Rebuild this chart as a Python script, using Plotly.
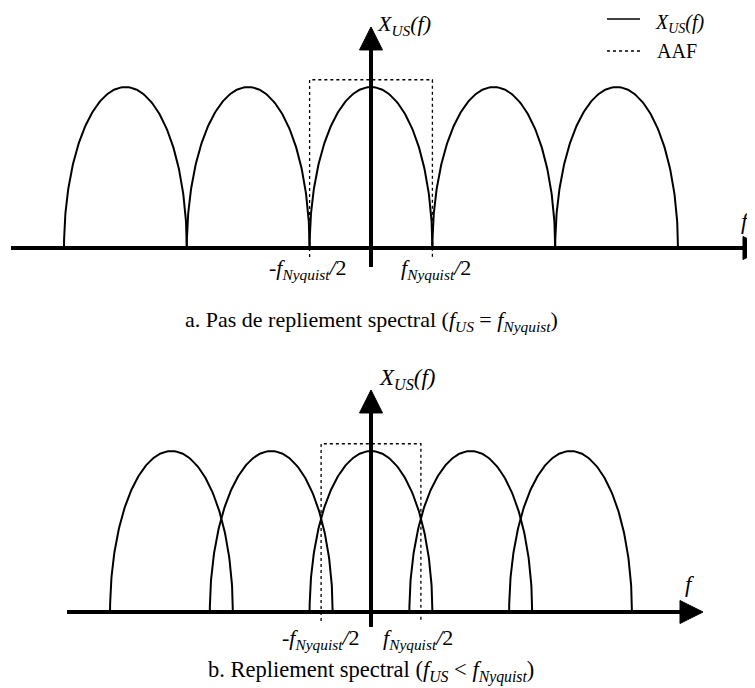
import numpy as np
import plotly.graph_objects as go

# ---------------- data ----------------
# spectral lobes (f in units of the signal half-bandwidth)
lobe_centers_a = [-4.0, -2.0, 0.0, 2.0, 4.0]          # f_US = f_Nyquist
lobe_centers_b = [-3.25, -1.625, 0.0, 1.625, 3.25]     # f_US < f_Nyquist
lobe_half_width = 1.0
lobe_height = 1.0
aaf_cutoff_a = 1.0       # f_Nyquist/2 in panel a
aaf_cutoff_b = 0.8125    # f_Nyquist/2 in panel b
aaf_height = 1.045
aaf_bottom = -0.056

# axis extents [start, tip]
haxis_a = [-5.863, 6.433]
vaxis_a = [-0.118, 1.373]
haxis_b = [-4.951, 5.407]
vaxis_b = [-0.093, 1.379]

tick_labels = ["-<i>f</i><sub><i>Nyquist</i></sub><i>/</i>2", "<i>f</i><sub><i>Nyquist</i></sub><i>/</i>2"]
ylabel = "<i>X</i><sub><i>US</i></sub><i>(f)</i>"
caption_a = "a. Pas de repliement spectral (<i>f</i><sub><i>US</i></sub> = <i>f</i><sub><i>Nyquist</i></sub>)"
caption_b = "b. Repliement spectral (<i>f</i><sub><i>US</i></sub> &lt; <i>f</i><sub><i>Nyquist</i></sub>)"

# ---------------- layout constants ----------------
W, H = 755, 688
OFF = 8          # page body margin
PW, PH = W - OFF, H - OFF
SX = 61.4    # px per f unit
SY = 161.0   # px per amplitude unit
X0 = 371
YA0, YB0 = 248, 612
SPLIT = 344
FONT = "Liberation Serif"
HEAD = 23

fig = go.Figure()

def lobe(c):
    t = np.linspace(0, np.pi, 181)
    return c + lobe_half_width * np.cos(t), lobe_height * np.sin(t)

def add_panel(centers, cutoff, hax, vax, xa, ya):
    for c in centers:
        x, y = lobe(c)
        fig.add_trace(go.Scatter(x=x, y=y, mode="lines", xaxis=xa, yaxis=ya,
                                 line=dict(color="black", width=2), showlegend=False,
                                 hoverinfo="skip"))
    fig.add_trace(go.Scatter(x=[-cutoff, -cutoff, cutoff, cutoff],
                             y=[aaf_bottom, aaf_height, aaf_height, aaf_bottom],
                             mode="lines", xaxis=xa, yaxis=ya,
                             line=dict(color="black", width=1.3, dash="dot"),
                             showlegend=False, hoverinfo="skip"))
    hb = hax[1] - HEAD / SX
    fig.add_trace(go.Scatter(x=[hax[0], hb + 0.02], y=[0, 0], mode="lines", xaxis=xa, yaxis=ya,
                             line=dict(color="black", width=4), showlegend=False, hoverinfo="skip"))
    fig.add_trace(go.Scatter(x=[hb, hax[1], hb, hb], y=[HEAD / 2 / SY, 0, -HEAD / 2 / SY, HEAD / 2 / SY],
                             mode="lines", fill="toself", fillcolor="black", xaxis=xa, yaxis=ya,
                             line=dict(color="black", width=1), showlegend=False, hoverinfo="skip"))
    vb = vax[1] - HEAD / SY
    fig.add_trace(go.Scatter(x=[0, 0], y=[vax[0], vb + 0.01], mode="lines", xaxis=xa, yaxis=ya,
                             line=dict(color="black", width=4), showlegend=False, hoverinfo="skip"))
    fig.add_trace(go.Scatter(x=[-HEAD / 2 / SX, 0, HEAD / 2 / SX, -HEAD / 2 / SX], y=[vb, vax[1], vb, vb],
                             mode="lines", fill="toself", fillcolor="black", xaxis=xa, yaxis=ya,
                             line=dict(color="black", width=1), showlegend=False, hoverinfo="skip"))

add_panel(lobe_centers_a, aaf_cutoff_a, haxis_a, vaxis_a, "x", "y")
add_panel(lobe_centers_b, aaf_cutoff_b, haxis_b, vaxis_b, "x2", "y2")

ann = []
def txt(x, y, text, xref, yref, size=22, xanchor="center", yanchor="middle"):
    ann.append(dict(x=x, y=y, text=text, xref=xref, yref=yref, showarrow=False,
                    xanchor=xanchor, yanchor=yanchor,
                    font=dict(family=FONT, size=size, color="black")))

def px(x):   # reference pixel -> paper x
    return (x - OFF) / PW

def py(y):   # reference pixel -> paper y
    return 1 - (y - OFF) / PH

# panel a labels
txt(px(375), py(9), ylabel, "paper", "paper", size=22, xanchor="left", yanchor="top")
txt(px(753), py(221), "<i>f</i>", "paper", "paper", size=23, xanchor="right")
txt(-aaf_cutoff_a - 0.03, -0.13, tick_labels[0], "x", "y")
txt(aaf_cutoff_a + 0.06, -0.13, tick_labels[1], "x", "y")
# panel b labels
txt(0.09, 1.45, ylabel, "x2", "y2", size=23, xanchor="left")
txt((690 - X0) / SX, (YB0 - 584) / SY, "<i>f</i>", "x2", "y2", size=23)
txt(-aaf_cutoff_b, -0.17, tick_labels[0], "x2", "y2")
txt(aaf_cutoff_b - 0.04, -0.17, tick_labels[1], "x2", "y2")
# captions
txt(px(371), py(321), caption_a, "paper", "paper", size=22)
txt(px(371), py(671), caption_b, "paper", "paper", size=22.5)
# legend
txt(px(653), py(9), ylabel, "paper", "paper", size=20, xanchor="left", yanchor="top")
txt(px(655), py(51), "AAF", "paper", "paper", size=20, xanchor="left")

shapes = [
    dict(type="line", xref="paper", yref="paper", x0=px(607), x1=px(640), y0=py(19), y1=py(19),
         line=dict(color="black", width=1.5)),
    dict(type="line", xref="paper", yref="paper", x0=px(607), x1=px(640), y0=py(51), y1=py(51),
         line=dict(color="black", width=1.3, dash="dot")),
]

xr = [(OFF - X0) / SX, (W - X0) / SX]
split = py(SPLIT)
fig.update_layout(
    width=PW, height=PH, margin=dict(l=0, r=0, t=0, b=0),
    paper_bgcolor="white", plot_bgcolor="white", showlegend=False,
    xaxis=dict(domain=[0, 1], range=xr, visible=False, anchor="y"),
    xaxis2=dict(domain=[0, 1], range=xr, visible=False, anchor="y2"),
    yaxis=dict(domain=[split, 1], range=[(YA0 - SPLIT) / SY, (YA0 - OFF) / SY], visible=False, anchor="x"),
    yaxis2=dict(domain=[0, split], range=[(YB0 - H) / SY, (YB0 - SPLIT) / SY], visible=False, anchor="x2"),
    annotations=ann, shapes=shapes,
)

fig.write_html("out.html")
